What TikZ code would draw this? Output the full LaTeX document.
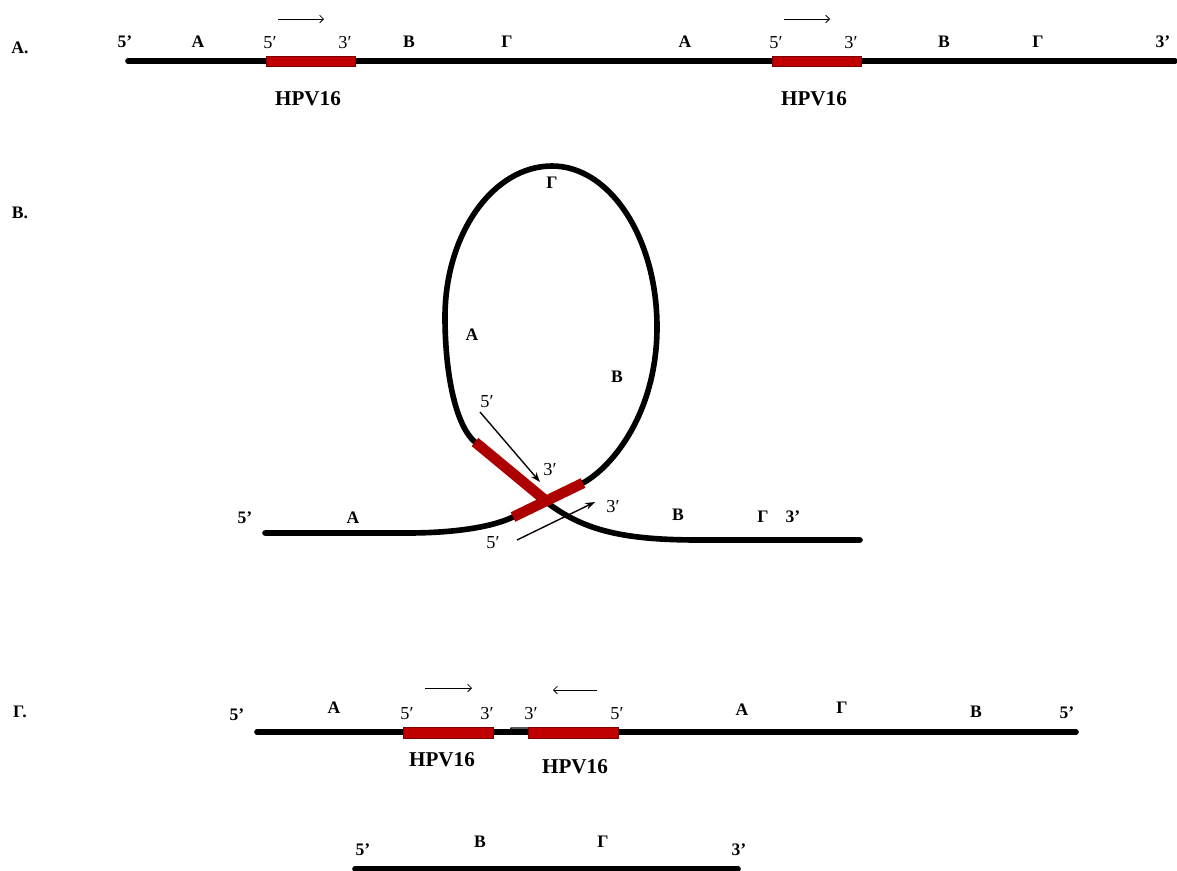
\documentclass[tikz,border=0pt]{standalone}
\usepackage{fontspec}
\setmainfont{Liberation Serif}
\newfontfamily\primefont{Liberation Serif}
\usepackage{tikz}
\usetikzlibrary{arrows.meta}
\definecolor{hpvred}{HTML}{C00000}
\definecolor{hpvedge}{HTML}{7A0000}
\definecolor{tipbrown}{HTML}{5A0A0A}

\begin{document}
\begin{tikzpicture}[x=0.025cm,y=0.025cm,>=Straight Barb,
  lab/.style={font=\fontsize{12.5}{12.5}\selectfont\bfseries},
  hpvlab/.style={font=\fontsize{15}{15}\selectfont\bfseries},
  pr/.style={font=\fontsize{13}{13}\primefont},
  dna/.style={line width=4pt,line cap=round},
  hpv/.style={fill=hpvred,draw=hpvedge,line width=0.7pt},
  hpvbar/.style={draw=hpvred!90!black,line width=7.5pt},
  sense/.style={->,line width=0.6pt},
  cross/.style={-{Stealth[length=7pt,width=5pt,fill=tipbrown]},line width=1pt,draw=black!85!tipbrown}]
  \useasboundingbox (0,0) rectangle (1177,-870);
  \node[lab] (secA) at (20,-48) {А.};
  \node[lab] (secB) at (20,-213) {В.};
  \node[lab] (secG) at (20,-712) {Г.};
  \draw[dna] (128,-61) coordinate (a0) -- (1175,-61) coordinate (a1);
  \foreach \x [count=\i] in {266,772} {
    \draw[hpv] (\x,-56) rectangle (\x+89,-66);
    \node[pr] (a5p\i) at (\x+4,-43) {5′};
    \node[pr] (a3p\i) at (\x+79,-43) {3′};
    \node[hpvlab] (ahpv\i) at (\x+42,-99) {HPV16};
    \coordinate (aar\i) at (\x+12,-19);
    \draw[sense] (aar\i) -- ++(46,0);
  }
  \foreach \t/\x in {5’/125,А/198,В/409,Г/507,А/685,В/944,Г/1038,3’/1163}
    \node[lab] (a-\x) at (\x,-42) {\t};
  \draw[dna] (265,-533) coordinate (b0) -- (407,-533) .. controls (450,-533) and (490,-528) .. (513,-517) coordinate (b1);
  \draw[dna] (583,-483) coordinate (b2) .. controls (615,-465) and (657,-410) .. (657,-327)
    .. controls (657,-238) and (610,-166) .. (552,-166)
    .. controls (493,-166) and (445,-234) .. (445,-317)
    .. controls (445,-375) and (456,-426) .. (475,-442) coordinate (b3);
  \draw[dna] (540,-497) coordinate (b4) .. controls (580,-530) and (620,-540) .. (700,-540) -- (860,-540) coordinate (b5);
  \draw[hpvbar] (b3) -- (545,-500);
  \draw[hpvbar] (b1) -- (b2);
  \node[pr] (b5p1) at (487,-402) {5′};
  \node[pr] (b3p1) at (550,-470) {3′};
  \node[pr] (b5p2) at (493,-543) {5′};
  \node[pr] (b3p2) at (613,-507) {3′};
  \coordinate (bs1) at (480,-412);
  \coordinate (bs2) at (517,-540);
  \draw[cross] (bs1) -- (540,-482);
  \draw[cross] (bs2) -- (595,-502);
  \foreach \t/\x/\y in {Г/552/183,А/472/335,В/617/377,5’/245/518,А/353/518,В/678/515,Г/763/517,3’/793/517}
    \node[lab] (b-\x) at (\x,-\y) {\t};
  \draw[dna] (257,-732) coordinate (g0) -- (1076,-732) coordinate (g1);
  \draw[line width=0.8pt] (493,-733) -- (509,-733) -- (511,-728) -- (528,-728);
  \draw[hpv] (403,-727) rectangle (493,-738);
  \draw[hpv] (528,-727) rectangle (618,-738);
  \node[pr] (g5p1) at (407,-714) {5′};
  \node[pr] (g3p1) at (487,-714) {3′};
  \node[pr] (g3p2) at (531,-714) {3′};
  \node[pr] (g5p2) at (617,-714) {5′};
  \node[hpvlab] (ghpv1) at (442,-760) {HPV16};
  \node[hpvlab] (ghpv2) at (575,-767) {HPV16};
  \coordinate (gar1) at (425,-688);
  \coordinate (gar2) at (597,-690);
  \draw[sense] (gar1) -- ++(47,0);
  \draw[sense] (gar2) -- ++(-44,0);
  \foreach \t/\x/\y in {5’/237/715,А/334/708,А/742/710,Г/842/708,В/976/712,5’/1067/713}
    \node[lab] (g-\x) at (\x,-\y) {\t};
  \draw[dna] (355,-869) coordinate (d0) -- (738,-869) coordinate (d1);
  \foreach \t/\x/\y in {5’/363/850,В/480/842,Г/603/842,3’/739/850}
    \node[lab] (d-\x) at (\x,-\y) {\t};
\end{tikzpicture}
\end{document}
